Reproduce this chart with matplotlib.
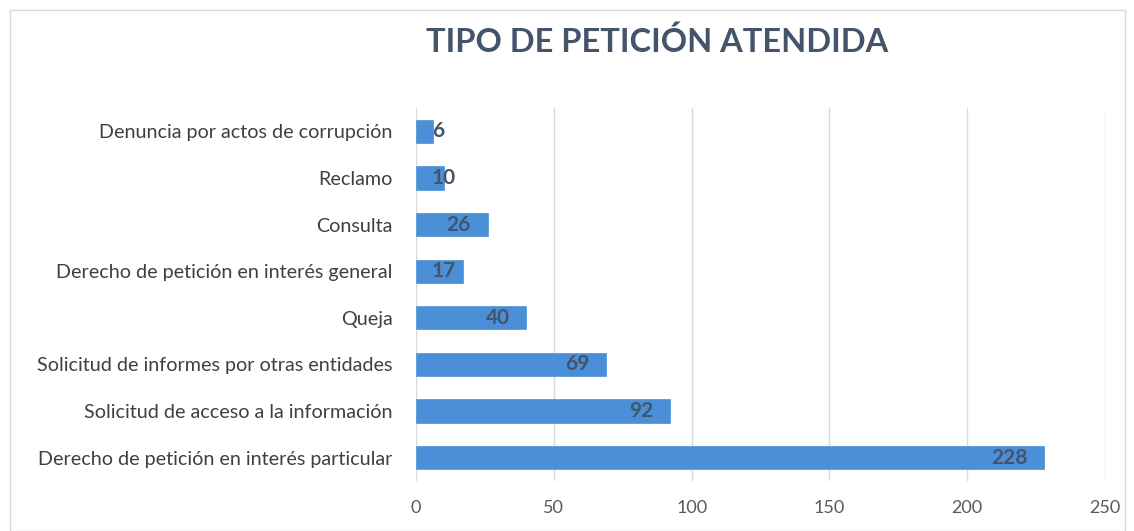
import matplotlib
matplotlib.use("Agg")
import matplotlib.pyplot as plt
from matplotlib.patches import Rectangle

categories = [
    "Denuncia por actos de corrupción",
    "Reclamo",
    "Consulta",
    "Derecho de petición en interés general",
    "Queja",
    "Solicitud de informes por otras entidades",
    "Solicitud de acceso a la información",
    "Derecho de petición en interés particular",
]
values = [6, 10, 26, 17, 40, 69, 92, 228]
xticks = [0, 50, 100, 150, 200, 250]
title = "TIPO DE PETICIÓN ATENDIDA"

plt.rcParams['font.family'] = ['Lato', 'DejaVu Sans']

fig = plt.figure(figsize=(11.34, 5.31), dpi=100)
ax = fig.add_axes([416/1134, 1-481/531, (1105-416)/1134, (481-108)/531])

ypos = list(range(len(categories)))
ax.barh(ypos, values, height=0.5, color="#4A8FD8", edgecolor="#5B9BD5", linewidth=0.6, zorder=3)
ax.set_ylim(len(categories)-0.5, -0.5)
ax.set_xlim(0, 250)
ax.set_xticks(xticks)
ax.set_yticks(ypos)
ax.set_yticklabels(categories, fontsize=14.2, color="#404040")
ax.tick_params(axis='y', length=0, pad=17)
ax.tick_params(axis='x', length=0, pad=14, labelsize=13, labelcolor="#595959")
ax.grid(axis='x', color="#D9D9D9", linewidth=1, zorder=0)
for s in ax.spines.values():
    s.set_visible(False)

px_per_unit = (1105-416)/250
for y, v in zip(ypos, values):
    txt = str(v)
    est_w = 12.5*len(txt)
    if v*px_per_unit >= est_w + 30:
        ax.annotate(txt, (v, y), xytext=(-12, 0), textcoords='offset points',
                    ha='right', va='center', fontsize=15, fontweight='bold',
                    color="#44546A", zorder=4)
    else:
        ax.annotate(txt, (0, y), xytext=(11.5, 0), textcoords='offset points',
                    ha='left', va='center', fontsize=15, fontweight='bold',
                    color="#44546A", zorder=4)

fig.text(657/1134, 1-42/531, title, ha='center', va='center', fontsize=23.5,
         fontweight='bold', color="#44546A")

fig.patches.append(Rectangle((10/1134, 0), (1125-10)/1134, 1-10/531, transform=fig.transFigure,
                             fill=False, edgecolor="#D9D9D9", linewidth=1))

fig.savefig("out.png", dpi=100)
